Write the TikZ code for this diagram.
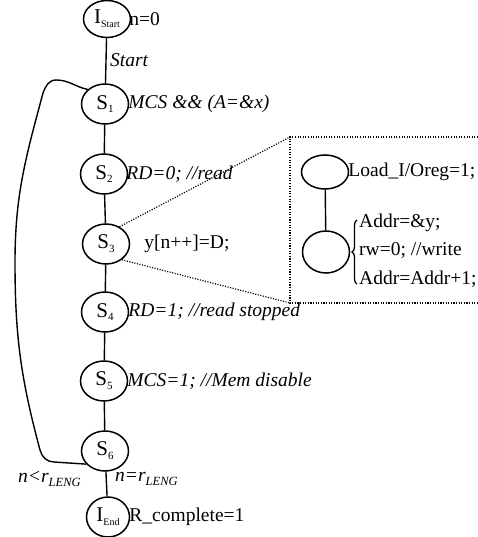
\documentclass[tikz,border=0pt]{standalone}
\usepackage{fontspec}
\setmainfont{Liberation Serif}
\usetikzlibrary{shapes.geometric,decorations.pathreplacing}
% small lowered index text: optional size, then the text
\newcommand\subtxt[2][11]{\raisebox{-0.4ex}{\fontsize{#1}{#1}\selectfont #2}}
\newcommand\lblsize{\fontsize{19.5}{23}\selectfont}
\begin{document}
\begin{tikzpicture}[x=1pt,y=-1pt,
  state/.style={draw, ellipse, line width=1.5pt, minimum width=47pt,
                minimum height=40pt, inner sep=0pt, font=\fontsize{21}{21}\selectfont},
  act/.style={anchor=west, inner sep=0pt, font=\lblsize\itshape},
  asg/.style={anchor=west, inner sep=0pt, font=\lblsize},
  link/.style={line width=1.4pt},
  zoomline/.style={line width=1.2pt, dash pattern=on 1.1pt off 1.5pt},
  bracestyle/.style={line width=1.3pt, decorate, decoration={brace, amplitude=5pt}}]
\useasboundingbox (0,0) rectangle (478,537);

% main chain of states
\node[state, minimum height=37pt] (Is) at (107,19) {I\subtxt[10]{Start}};
\node[state] (S1) at (105,104) {S\subtxt{1}};
\node[state] (S2) at (104,174) {S\subtxt{2}};
\node[state] (S3) at (106,244) {S\subtxt{3}};
\node[state] (S4) at (105,312) {S\subtxt{4}};
\node[state] (S5) at (104,381) {S\subtxt{5}};
\node[state] (S6) at (105,451) {S\subtxt{6}};
\node[state, minimum width=43pt] (Ie) at (108,517) {I\subtxt[10]{End}};

\draw[link] (Is) -- (S1);
\draw[link] (S1) -- (S2);
\draw[link] (S2) -- (S3);
\draw[link] (S3) -- (S4);
\draw[link] (S4) -- (S5);
\draw[link] (S5) -- (S6);
\draw[link] (S6) -- (Ie);

% loop back from S6 to S1
\coordinate (k1) at (56,80);
\coordinate (k2) at (43,93);
\coordinate (k3) at (15,262);
\coordinate (k4) at (40,450);
\coordinate (k5) at (54,462);
\draw[link] (S1.140) to[out=168,in=0] (k1) to[out=180,in=70] (k2)
  to[out=-105,in=90] (k3) to[out=-90,in=105] (k4) to[out=-75,in=180] (k5) -- (S6.215);

% actions of the states
\node[asg] (lIs) at ([xshift=-2pt]Is.east) {n=0};
\node[act] (lStart) at (110,60) {Start};
\node[act] (l1) at ([xshift=-1pt]S1.east) {MCS \&\& (A=\&x)};
\node[act] (l2) at ([xshift=-2pt]S2.east) {RD=0; //read};
\node[asg] (l3) at ([xshift=14pt]S3.east) {y[n++]=D;};
\node[act] (l4) at ([xshift=-1pt]S4.east) {RD=1; //read stopped};
\node[act] (l5) at ([xshift=-1pt]S5.east) {MCS=1; //Mem disable};
\node[act] (lLess) at (18,479) {n<r\subtxt[12.5]{LENG}};
\node[act] (lEq) at (115,479) {n=r\subtxt[12.5]{LENG}};
\node[asg] (lE) at ([xshift=-1pt]Ie.east) {R\_complete=1};

% detail of S3
\coordinate (bTL) at (290,137);
\coordinate (bBL) at (290,303);
\coordinate (bTR) at (478,137);
\coordinate (bBR) at (478,303);
\draw[zoomline] (bTR) -- (bTL) -- (bBL) -- (bBR);
\draw[zoomline] (S3.52) -- (bTL);
\draw[zoomline] (S3.-45) -- (bBL);

\node[state, minimum height=34pt] (L1) at (325,172) {};
\node[state, minimum height=42pt] (L2) at (326,252) {};
\draw[link] (L1) -- (L2);
\node[asg] (lL1) at ([xshift=-1pt]L1.east) {Load\_I/Oreg=1;};

\coordinate (brB) at (357,284);
\coordinate (brT) at (357,220);
\draw[bracestyle] (brB) -- (brT);
\node[asg] (a1) at (359,223) {Addr=\&y;};
\node[asg] (a2) at (359,251) {rw=0; //write};
\node[asg] (a3) at (359,279) {Addr=Addr+1;};
\end{tikzpicture}
\end{document}
